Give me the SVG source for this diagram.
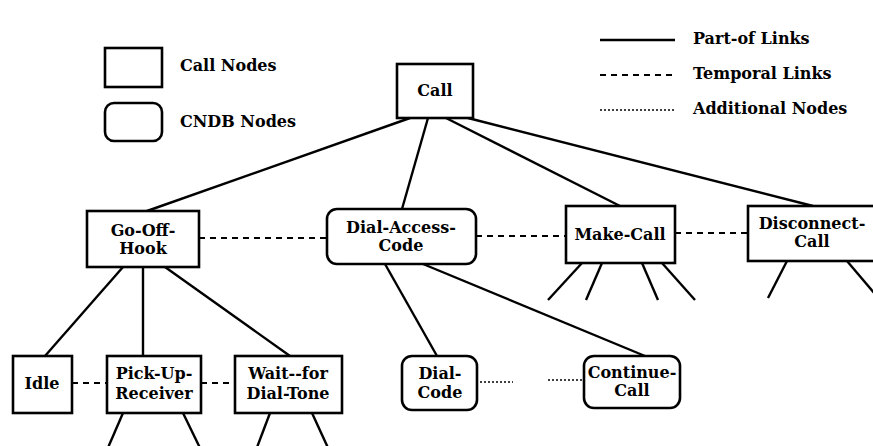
<svg xmlns="http://www.w3.org/2000/svg" width="873" height="446" viewBox="0 0 873 446">
<style>
.box{fill:#fff;stroke:#000;stroke-width:2.6}
.t{font-family:"DejaVu Serif","Liberation Serif",serif;font-weight:bold;font-size:16px;fill:#000;text-anchor:middle}
.lt{font-family:"DejaVu Serif","Liberation Serif",serif;font-weight:bold;font-size:16px;fill:#000}
.part{stroke:#000;stroke-width:2.4;fill:none}
.temp{stroke:#000;stroke-width:2;stroke-dasharray:6 5;fill:none}
.add{stroke:#000;stroke-width:1.5;stroke-dasharray:2 2;fill:none}
</style>
<rect width="873" height="446" fill="#fff"/>
<g id="legend">
<rect class="box" x="105" y="48" width="57" height="39"/>
<text class="lt" x="180" y="71">Call Nodes</text>
<rect class="box" x="105" y="103" width="57" height="38" rx="9"/>
<text class="lt" x="180" y="127">CNDB Nodes</text>
<line class="part" x1="600" y1="40" x2="675" y2="40"/>
<text class="lt" x="693" y="44">Part-of Links</text>
<line class="temp" x1="600" y1="75" x2="675" y2="75" stroke-dasharray="5 4.5"/>
<text class="lt" x="693" y="79">Temporal Links</text>
<line class="add" x1="600" y1="110" x2="675" y2="110"/>
<text class="lt" x="693" y="114">Additional Nodes</text>
</g>
<g id="connectors">
<line class="part" x1="410" y1="118" x2="147" y2="211"/>
<line class="part" x1="428" y1="118" x2="402" y2="209"/>
<line class="part" x1="446" y1="118" x2="620" y2="206"/>
<line class="part" x1="468" y1="118" x2="813" y2="206"/>
<line class="part" x1="123" y1="267" x2="45" y2="356"/>
<line class="part" x1="143" y1="267" x2="143" y2="356"/>
<line class="part" x1="165" y1="267" x2="290" y2="356"/>
<line class="part" x1="385" y1="264" x2="437" y2="356"/>
<line class="part" x1="423" y1="264" x2="645" y2="356"/>
<line class="part" x1="582" y1="263" x2="548" y2="300"/>
<line class="part" x1="602" y1="263" x2="586" y2="300"/>
<line class="part" x1="642" y1="263" x2="658" y2="300"/>
<line class="part" x1="662" y1="263" x2="695" y2="300"/>
<line class="part" x1="787" y1="261" x2="768" y2="298"/>
<line class="part" x1="847" y1="261" x2="880" y2="300"/>
<line class="part" x1="123" y1="413" x2="107" y2="450"/>
<line class="part" x1="183" y1="413" x2="201" y2="450"/>
<line class="part" x1="270" y1="413" x2="256" y2="450"/>
<line class="part" x1="312" y1="413" x2="329" y2="450"/>
<line class="temp" x1="199" y1="238" x2="327" y2="238"/>
<line class="temp" x1="476" y1="236" x2="566" y2="236"/>
<line class="temp" x1="675" y1="233" x2="748" y2="233"/>
<line class="temp" x1="72" y1="383" x2="107" y2="383"/>
<line class="temp" x1="201" y1="383" x2="235" y2="383"/>
<line class="add" x1="480" y1="382" x2="513" y2="382"/>
<line class="add" x1="548" y1="380" x2="584" y2="380"/>
</g>
<g id="call">
<rect class="box" x="397" y="64" width="76" height="54"/>
<text class="t" x="435" y="96">Call</text>
</g>
<g id="go-off-hook">
<rect class="box" x="87" y="211" width="112" height="56"/>
<text class="t" x="143" y="236">Go-Off-</text>
<text class="t" x="143" y="254">Hook</text>
</g>
<g id="dial-access-code">
<rect class="box" x="327" y="209" width="149" height="55" rx="10"/>
<text class="t" x="401" y="233">Dial-Access-</text>
<text class="t" x="401" y="251">Code</text>
</g>
<g id="make-call">
<rect class="box" x="566" y="206" width="109" height="57"/>
<text class="t" x="620" y="240">Make-Call</text>
</g>
<g id="disconnect-call">
<rect class="box" x="748" y="206" width="140" height="55"/>
<text class="t" x="812" y="229">Disconnect-</text>
<text class="t" x="812" y="247">Call</text>
</g>
<g id="idle">
<rect class="box" x="13" y="356" width="59" height="57"/>
<text class="t" x="42" y="389">Idle</text>
</g>
<g id="pick-up-receiver">
<rect class="box" x="107" y="356" width="94" height="57"/>
<text class="t" x="154" y="379">Pick-Up-</text>
<text class="t" x="154" y="399">Receiver</text>
</g>
<g id="wait-for-dial-tone">
<rect class="box" x="235" y="356" width="107" height="57"/>
<text class="t" x="288" y="379">Wait--for</text>
<text class="t" x="288" y="399">Dial-Tone</text>
</g>
<g id="dial-code">
<rect class="box" x="402" y="356" width="75" height="54" rx="10"/>
<text class="t" x="440" y="379">Dial-</text>
<text class="t" x="440" y="398">Code</text>
</g>
<g id="continue-call">
<rect class="box" x="584" y="356" width="96" height="52" rx="10"/>
<text class="t" x="632" y="378">Continue-</text>
<text class="t" x="632" y="396">Call</text>
</g>
</svg>
